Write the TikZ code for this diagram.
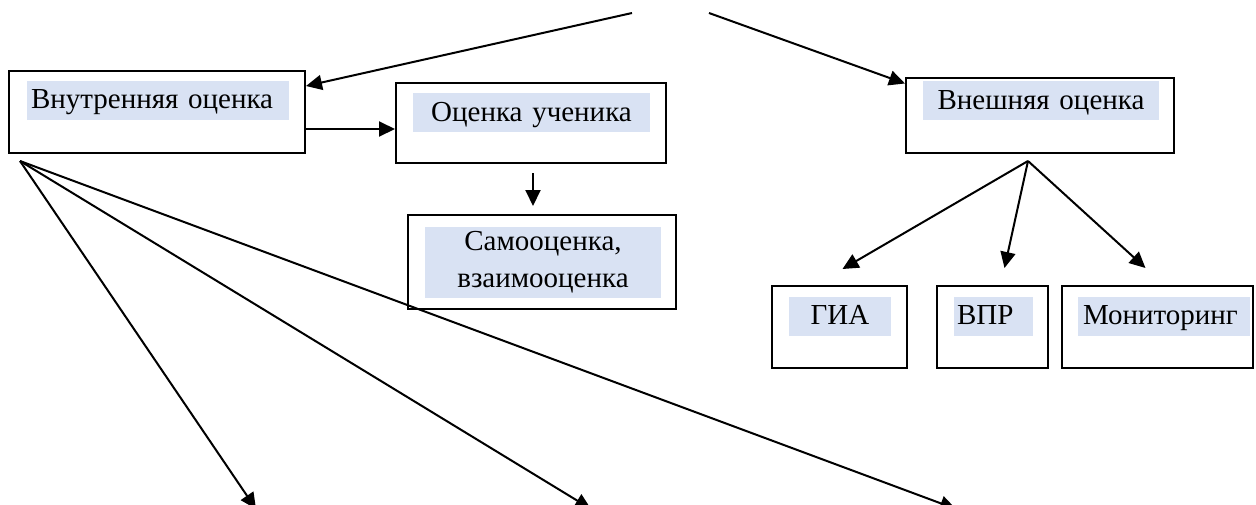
\documentclass[tikz,border=0pt]{standalone}
\usepackage{fontspec}
\setmainfont{Liberation Serif}
\usetikzlibrary{arrows.meta,calc}
\definecolor{hlblue}{HTML}{D9E2F3}
\tikzset{
  box/.style={draw=black, line width=2pt, fill=white, inner sep=0pt},
  hl/.style={fill=hlblue, inner ysep=0pt, font=\fontsize{29}{37}\selectfont, minimum height=39pt},
  one/.style={text height=22pt, text depth=5pt},
  arr/.style={line width=2pt, -{Triangle[length=16pt,width=15pt]}}
}
\begin{document}
\begin{tikzpicture}[x=1pt,y=-1pt]
\useasboundingbox (0,0) rectangle (1256,504);
\clip (0,0) rectangle (1256,504);
% boxes
\node[box, minimum width=296pt, minimum height=82pt] (b1) at (157,112) {};
\node[box, minimum width=270pt, minimum height=80pt] (b2) at (531,123) {};
\node[box, minimum width=268pt, minimum height=94pt] (b3) at (542,262) {};
\node[box, minimum width=268pt, minimum height=75pt] (b4) at (1040,115) {};
\node[box, minimum width=135pt, minimum height=82pt] (g1) at (839.5,327) {};
\node[box, minimum width=111pt, minimum height=82pt] (g2) at (992.5,327) {};
\node[box, minimum width=191pt, minimum height=82pt] (g3) at (1157.5,327) {};
% highlighted texts
\node[hl, one, inner xsep=4pt, text width=254pt, align=left] (t1) at (158,100) {Внутренняя оценка};
\node[hl, one, inner xsep=0pt, text width=237pt, align=center] (t2) at (531.5,112.5) {Оценка ученика};
\node[hl, inner xsep=0pt, text width=236pt, align=center, minimum height=71pt] (t3) at (543,262.5) {Самооценка,\\взаимооценка};
\node[hl, one, inner xsep=0pt, text width=236pt, align=center] (t4) at (1041,100.5) {Внешняя оценка};
\node[hl, one, inner xsep=0pt, text width=102pt, align=center] (u1) at (840,316) {ГИА};
\node[hl, one, inner xsep=3pt, text width=73pt, align=left] (u2) at (993.5,316) {ВПР};
\node[hl, one, inner xsep=5pt, text width=162pt, align=left] (u3) at (1164,316) {Мониторинг};
% free ends
\coordinate (top1) at (632,13);
\coordinate (top2) at (709,13);
\coordinate (fan) at (1028,161);
\coordinate (src) at (20,161);
\coordinate (e1) at (256,509);
\coordinate (e2) at (591,509);
\coordinate (e3) at (956,509);
% connectors
\draw[arr] (top1) -- ([yshift=-16pt]b1.north east);
\draw[arr] (top2) -- ([yshift=-7pt]b4.north west);
\path (b1.south east) ++(0,-25) coordinate (a1);
\draw[arr] (a1) -- (a1 -| b2.west);
\draw[arr] ([xshift=2pt,yshift=-9pt]b2.south) -- ([xshift=2pt,yshift=8pt]b2.south |- b3.north);
\draw[arr] (fan) -- ([xshift=3pt,yshift=16pt]g1.north);
\draw[arr] (fan) -- ([xshift=12pt,yshift=17pt]g2.north);
\draw[arr] (fan) -- ([xshift=-12pt,yshift=17pt]g3.north);
\draw[arr] (src) -- (e1);
\draw[arr] (src) -- (e2);
\draw[arr] (src) -- (e3);
\end{tikzpicture}
\end{document}
